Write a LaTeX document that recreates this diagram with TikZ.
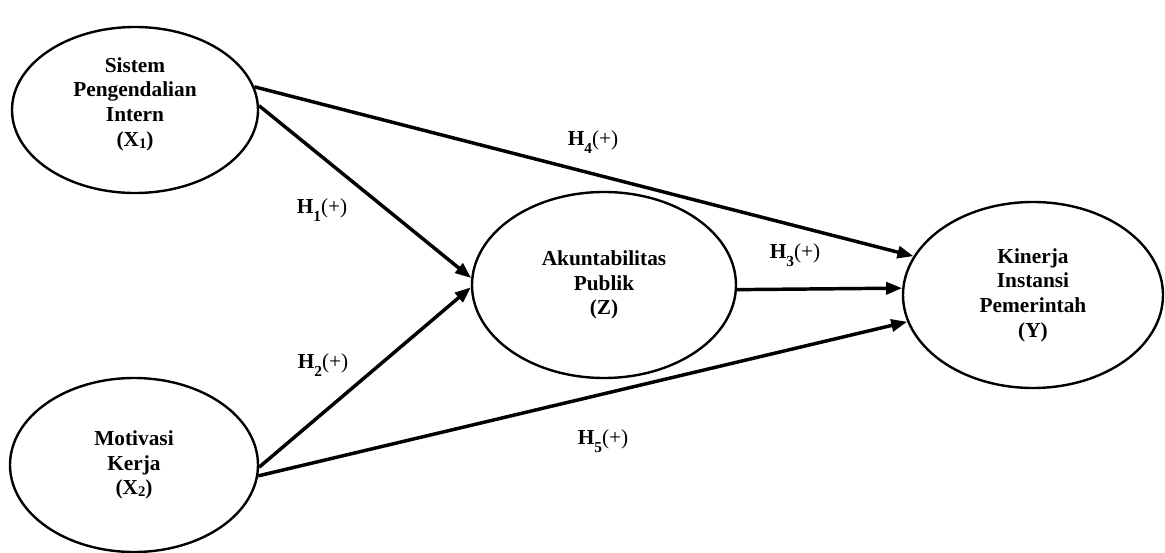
\documentclass[tikz,border=0pt]{standalone}
\usepackage{fontspec}
\setmainfont{Liberation Serif}
\usetikzlibrary{shapes.geometric,arrows.meta}
\newcommand{\hsub}[1]{\raisebox{-0.4em}{\fontsize{11.5}{11.5}\selectfont\bfseries #1}}
\newcommand{\xsub}[1]{\raisebox{-0.1em}{\fontsize{11}{11}\selectfont\bfseries #1}}
\tikzset{
  construct/.style={ellipse, draw, line width=1.8pt, inner sep=0pt, align=center,
    font=\fontsize{16}{18.5}\selectfont\bfseries},
  path arrow/.style={line width=2.6pt, -{Triangle[length=12pt,width=9pt]}},
  hyp/.style={font=\fontsize{16}{17}\selectfont, inner sep=0pt}
}
\begin{document}
\begin{tikzpicture}[x=0.75pt,y=-0.75pt]
\useasboundingbox (0,0) rectangle (1165,553);
\node[construct, minimum width=184.5pt, minimum height=124.5pt] (X1) at (135,110)
  {Sistem\\Pengendalian\\Intern\\(X\xsub{1})\\[-6pt]\mbox{}};
\node[construct, minimum width=186pt, minimum height=130.5pt] (X2) at (134,465)
  {Motivasi\\Kerja\\(X\xsub{2})};
\node[construct, minimum width=198pt, minimum height=139.5pt] (Z) at (604,285)
  {Akuntabilitas\\Publik\\(Z)};
\node[construct, minimum width=195pt, minimum height=139.5pt] (Y) at (1033,295)
  {Kinerja\\Instansi\\Pemerintah\\(Y)};

\draw[path arrow] (X1.11) -- (Y.162.4);
\draw[path arrow] (X1.2) -- (Z.177);
\draw[path arrow] (X2.-1) -- (Z.181.5);
\draw[path arrow] (X2.-5) -- (Y.192.6);
\draw[path arrow] (Z.-2) -- (Y.177.8);

\node[hyp] (h1) at (322,210) {\textbf{H}\hsub{1}(+)};
\node[hyp] (h2) at (323,365) {\textbf{H}\hsub{2}(+)};
\node[hyp] (h3) at (795,255) {\textbf{H}\hsub{3}(+)};
\node[hyp] (h4) at (593,142) {\textbf{H}\hsub{4}(+)};
\node[hyp] (h5) at (603,441) {\textbf{H}\hsub{5}(+)};
\end{tikzpicture}
\end{document}
